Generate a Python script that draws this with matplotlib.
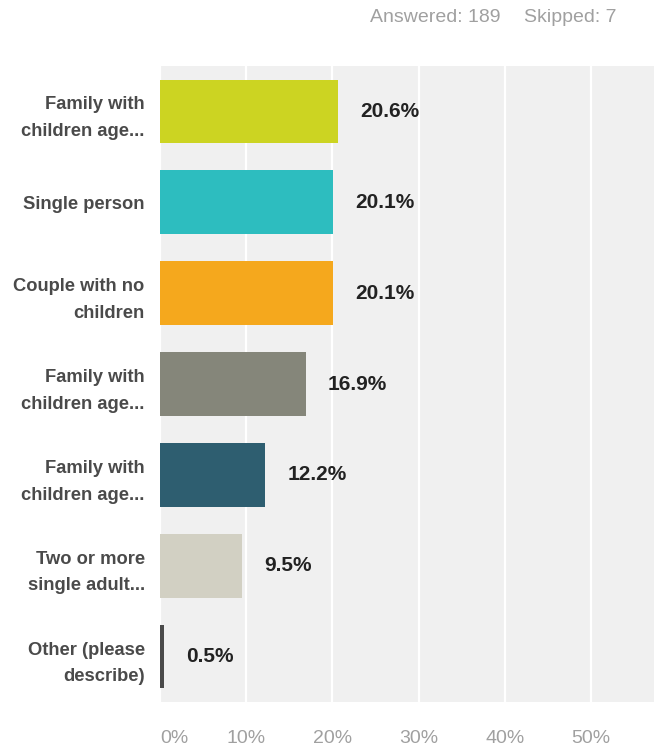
import matplotlib.pyplot as plt

plt.rcParams['font.family'] = ['Liberation Sans', 'DejaVu Sans']

categories = ['Family with\nchildren age...', 'Single person', 'Couple with no\nchildren',
              'Family with\nchildren age...', 'Family with\nchildren age...',
              'Two or more\nsingle adult...', 'Other (please\ndescribe)']
percent = [20.6, 20.1, 20.1, 16.9, 12.2, 9.5, 0.5]
bar_colors = ['#CCD422', '#2DBDBF', '#F5A81D', '#85867A', '#2E5E70', '#D2D0C3', '#4A4A4A']
tick_values = [0, 10, 20, 30, 40, 50]
tick_labels = ['0%', '10%', '20%', '30%', '40%', '50%']
answered = 189
skipped = 7

fig = plt.figure(figsize=(6.54, 7.49), dpi=100)
ax = fig.add_axes([160 / 654, 1 - 702 / 749, 494 / 654, 636 / 749])
ax.set_facecolor('#F0F0F0')

y = list(range(len(categories)))
ax.barh(y, percent, height=0.70, color=bar_colors, zorder=3)
ax.set_ylim(len(categories) - 0.5, -0.5)
ax.set_xlim(0, 57.3)

for yi, v in zip(y, percent):
    ax.annotate(f'{v}%', xy=(v, yi), xytext=(16, 0), textcoords='offset points',
                ha='left', va='center', fontsize=15, fontweight='bold', color='#222222')

ax.set_yticks(y)
ax.set_yticklabels(categories, fontsize=13.2, fontweight='bold', color='#4A4A4A',
                   linespacing=1.75)
ax.set_xticks(tick_values)
labels = ax.set_xticklabels(tick_labels, fontsize=14, color='#A0A0A0')
labels[0].set_ha('left')
ax.tick_params(axis='y', length=0, pad=11)
ax.tick_params(axis='x', length=0, pad=20)
ax.grid(axis='x', color='white', linewidth=1.6, zorder=1)
for s in ax.spines.values():
    s.set_visible(False)

fig.text(500 / 654, 1 - 18 / 749, f'Answered: {answered}', ha='right', va='center',
         fontsize=14, color='#A0A0A0')
fig.text(524 / 654, 1 - 18 / 749, f'Skipped: {skipped}', ha='left', va='center',
         fontsize=14, color='#A0A0A0')

fig.savefig('out.png', dpi=100, facecolor='white')
